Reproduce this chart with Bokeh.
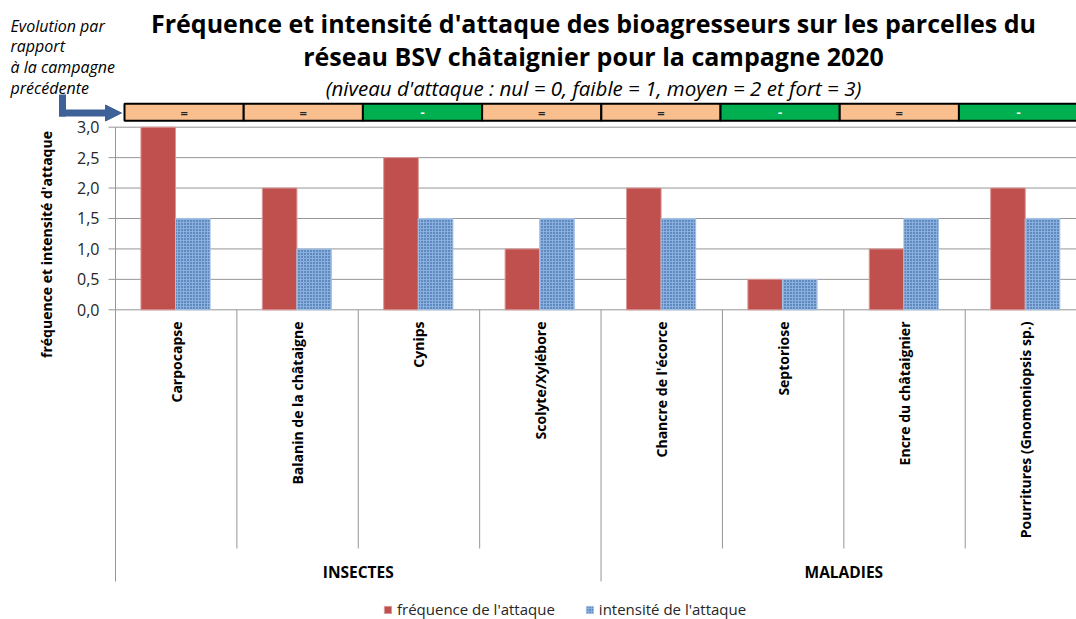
import math
from bokeh.plotting import figure
from bokeh.models import (Range1d, Label, Arrow, NormalHead, ColumnDataSource,
                          Legend, LegendItem)
from bokeh.core.properties import value
from bokeh.embed import file_html
from bokeh.resources import INLINE

# ---------------- data ----------------
categories = ["Carpocapse", "Balanin de la châtaigne", "Cynips", "Scolyte/Xylébore",
              "Chancre de l'écorce", "Septoriose", "Encre du châtaignier",
              "Pourritures (Gnomoniopsis sp.)"]
groups = ["INSECTES", "MALADIES"]
group_sizes = [4, 4]
frequence = [3.0, 2.0, 2.5, 1.0, 2.0, 0.5, 1.0, 2.0]
intensite = [1.5, 1.0, 1.5, 1.5, 1.5, 0.5, 1.5, 1.5]
evolution = ["=", "=", "-", "=", "=", "-", "=", "-"]
y_ticks = [0.0, 0.5, 1.0, 1.5, 2.0, 2.5, 3.0]
y_tick_labels = ["0,0", "0,5", "1,0", "1,5", "2,0", "2,5", "3,0"]
series_names = ["fréquence de l'attaque", "intensité de l'attaque"]

title1 = "Fréquence et intensité d'attaque des bioagresseurs sur les parcelles du"
title2 = "réseau BSV châtaignier pour la campagne 2020"
subtitle = "(niveau d'attaque : nul = 0, faible = 1, moyen = 2 et fort = 3)"
side_note = ["Evolution par", "rapport", "à la campagne", "précédente"]
y_label = "fréquence et intensité d'attaque"

# ---------------- layout helpers (canvas pixels -> data) ----------------
W, H = 1076, 619
CAT_PX = 121.39          # pixels per category
UNIT_PX = 60.87          # pixels per 1.0 on value axis
X0_PX, Y0_PX = 115.0, 309.3


def dx(px):
    return (px - X0_PX) / CAT_PX


def dy(py):
    return (Y0_PX - py) / UNIT_PX


FONT = "Open Sans"
GRID_C = "#969696"

p = figure(width=W, height=H, output_backend="svg", toolbar_location=None,
           x_range=Range1d(dx(0), dx(W)), y_range=Range1d(dy(H), dy(0)),
           min_border_left=0, min_border_right=0, min_border_top=0, min_border_bottom=0)
p.outline_line_color = None
p.background_fill_color = "white"
p.border_fill_color = "white"
p.axis.visible = False
p.grid.visible = False

n = len(categories)
idx = list(range(n))
x_end = dx(W)

# value axis: grid lines, ticks, tick labels
p.segment(x0=[dx(108)] * len(y_ticks), x1=[x_end] * len(y_ticks), y0=y_ticks, y1=y_ticks,
          line_color=GRID_C, line_width=1)
p.text(x=[dx(99)] * len(y_ticks), y=y_ticks, text=y_tick_labels, text_align="right",
       text_baseline="middle", text_font=value(FONT), text_font_size="16px",
       text_color="#262626")

# separators (category boundaries) under the axis
sep_x = list(range(n + 1))
group_bounds = [0]
for s in group_sizes:
    group_bounds.append(group_bounds[-1] + s)
sep_bottom = [dy(581) if i in group_bounds else dy(548) for i in sep_x]
p.segment(x0=sep_x, x1=sep_x, y0=[0] * len(sep_x), y1=sep_bottom,
          line_color=GRID_C, line_width=1)
# vertical value axis line
p.segment(x0=[0], x1=[0], y0=[y_ticks[-1]], y1=[0], line_color=GRID_C, line_width=1)

# bars
src = ColumnDataSource(dict(
    xf=[i + 0.352 for i in idx], xi=[i + 0.637 for i in idx],
    freq=frequence, inten=intensite))
r_f = p.vbar(x="xf", top="freq", width=0.285, bottom=0, source=src,
             fill_color="#C0504D", line_color="#D99795", line_width=1)
r_i = p.vbar(x="xi", top="inten", width=0.285, bottom=0, source=src,
             fill_color="#8AB0E0", line_color="#A7C2E4", line_width=1,
             hatch_pattern="dot", hatch_scale=3, hatch_color="#1F4E8C",
             hatch_weight=1, hatch_alpha=1.0)

# category labels (rotated)
p.text(x=[i + 0.5 for i in idx], y=[dy(321)] * n, text=categories,
       angle=math.pi / 2, text_align="right", text_baseline="middle",
       text_font=value(FONT), text_font_style="bold", text_font_size="14px",
       text_color="black")

# group labels
gcent = [(group_bounds[k] + group_bounds[k + 1]) / 2 for k in range(len(groups))]
p.text(x=gcent, y=[dy(571)] * len(groups), text=groups,
       text_align="center", text_baseline="middle",
       text_font=value(FONT), text_font_style="bold", text_font_size="15.5px",
       text_color="black")

# evolution boxes
box_w = 0.982
box_left = [dx(124) + i * box_w for i in idx]
box_cols = ["#F9BF8F" if e == "=" else "#00B050" for e in evolution]
txt_cols = ["#262626" if e == "=" else "white" for e in evolution]
p.quad(left=box_left, right=[b + box_w for b in box_left],
       bottom=[dy(120.3)] * n, top=[dy(103.3)] * n,
       fill_color=box_cols, line_color="black", line_width=2)
p.text(x=[b + box_w / 2 for b in box_left], y=[dy(112)] * n, text=evolution,
       text_align="center", text_baseline="middle", text_font=value(FONT),
       text_font_size="13px", text_font_style="bold", text_color=txt_cols)

# titles
for txt, yy, size, style in [(title1, 22, "25px", "bold"), (title2, 55, "25px", "bold"),
                             (subtitle, 87, "20.5px", "italic")]:
    p.add_layout(Label(x=dx(593), y=dy(yy), text=txt, text_align="center",
                       text_baseline="middle", text_font=FONT, text_font_size=size,
                       text_font_style=style, text_color="black"))

# side note
for k, t in enumerate(side_note):
    p.add_layout(Label(x=dx(10), y=dy(25 + k * 20.7), text=t, text_align="left",
                       text_baseline="middle", text_font=FONT, text_font_size="16px",
                       text_font_style="italic", text_color="black"))

# y label
p.add_layout(Label(x=dx(46), y=dy(244), text=y_label, angle=math.pi / 2,
                   text_align="center", text_baseline="middle", text_font=FONT,
                   text_font_size="14px", text_font_style="bold", text_color="black"))

# arrow
ARROW_C = "#3E6297"
p.add_layout(Arrow(end=None, x_start=dx(62), y_start=dy(94), x_end=dx(62), y_end=dy(116),
                   line_color=ARROW_C, line_width=7))
p.add_layout(Arrow(end=NormalHead(size=16, fill_color=ARROW_C, line_color=ARROW_C),
                   x_start=dx(58.5), y_start=dy(112.5), x_end=dx(121), y_end=dy(112.5),
                   line_color=ARROW_C, line_width=7))

# legend
legend = Legend(items=[LegendItem(label=series_names[0], renderers=[r_f]),
                       LegendItem(label=series_names[1], renderers=[r_i])],
                location=(383, 0), orientation="horizontal",
                glyph_width=9, glyph_height=9, label_standoff=5, spacing=30,
                padding=0, margin=0, border_line_color=None, background_fill_alpha=0,
                label_text_font=FONT, label_text_font_size="15px", label_height=14,
                label_text_color="#262626")
p.add_layout(legend, "center")

open("out.html", "w").write(file_html(p, INLINE))
